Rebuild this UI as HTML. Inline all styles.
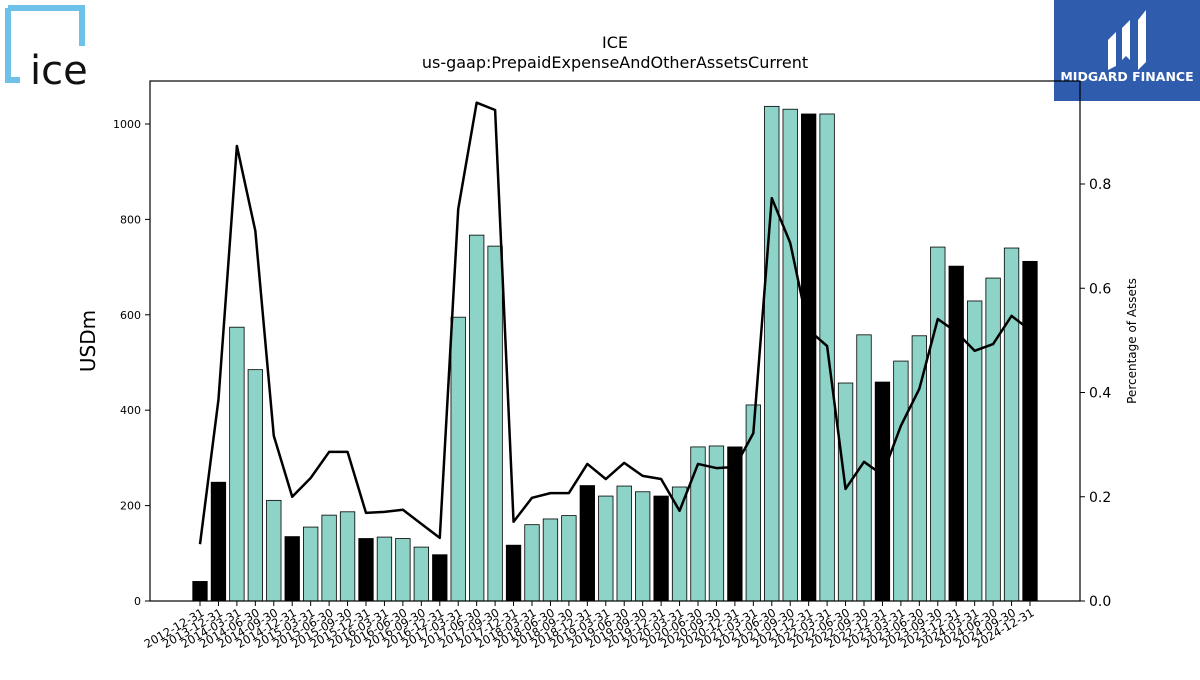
<!DOCTYPE html>
<html><head><meta charset="utf-8"><style>
body{margin:0;background:#fff;font-family:"Liberation Sans","DejaVu Sans",sans-serif}
svg text{font-family:"DejaVu Sans","Liberation Sans",sans-serif}
</style></head><body>
<svg id="chart" width="1200" height="675" xmlns="http://www.w3.org/2000/svg">
<g>
<path d="M8,8 H82 V46 M8,8 V80 H20" fill="none" stroke="#6ec1e8" stroke-width="6"/>
<text x="30" y="84" font-size="40" fill="#111" font-family="Liberation Sans">ice</text>
</g>
<g>
<rect x="1054" y="0" width="146" height="101" fill="#2f5cad"/>
<path d="M1108,40 l8,-8 v34 l-8,4z M1122,28 l8,-8 v40 l-4,-4 l-4,4z M1138,20 l8,-10 v52 l-8,8z" fill="#fff"/>
<text x="1127" y="81" font-size="12.5" font-weight="bold" fill="#fff" text-anchor="middle">MIDGARD FINANCE</text>
</g>
<text x="615" y="48" font-size="16" text-anchor="middle">ICE</text>
<text x="615" y="68" font-size="16" text-anchor="middle">us-gaap:PrepaidExpenseAndOtherAssetsCurrent</text>
<g id="bars"></g><g id="line"></g><g id="axes"></g>
</svg>
<script>
const categories=["2012-12-31","2013-12-31","2014-03-31","2014-06-30","2014-09-30","2014-12-31","2015-03-31","2015-06-30","2015-09-30","2015-12-31","2016-03-31","2016-06-30","2016-09-30","2016-12-31","2017-03-31","2017-06-30","2017-09-30","2017-12-31","2018-03-31","2018-06-30","2018-09-30","2018-12-31","2019-03-31","2019-06-30","2019-09-30","2019-12-31","2020-03-31","2020-06-30","2020-09-30","2020-12-31","2021-03-31","2021-06-30","2021-09-30","2021-12-31","2022-03-31","2022-06-30","2022-09-30","2022-12-31","2023-03-31","2023-06-30","2023-09-30","2023-12-31","2024-03-31","2024-06-30","2024-09-30","2024-12-31"];
const usdValues=[41,249,574,485,211,135,155,180,187,131,134,131,113,97,595,767,744,117,160,172,179,242,220,241,229,220,239,323,325,323,411,1037,1031,1021,1021,457,558,459,503,556,742,702,629,677,740,712];
const pctValues=[0.109,0.386,0.873,0.71,0.317,0.2,0.236,0.286,0.286,0.169,0.171,0.175,0.148,0.121,0.752,0.956,0.942,0.152,0.198,0.207,0.207,0.263,0.234,0.265,0.24,0.234,0.173,0.263,0.255,0.257,0.322,0.773,0.687,0.52,0.489,0.215,0.267,0.242,0.336,0.407,0.541,0.516,0.48,0.493,0.547,0.52];
const leftTicks=[0,200,400,600,800,1000];
const rightTicks=[0.0,0.2,0.4,0.6,0.8];
const NS="http://www.w3.org/2000/svg";
const L=150,R=1080,T=81,B=601;
const x=i=>200+i*(1030-200)/(categories.length-1);
const yL=v=>B-v*0.477;
const yR=v=>B-v*521.25;
const bw=14.5;
function mk(tag,attrs,parent){const e=document.createElementNS(NS,tag);for(const k in attrs)e.setAttribute(k,attrs[k]);parent.appendChild(e);return e;}
const bars=document.getElementById('bars'),line=document.getElementById('line'),axes=document.getElementById('axes');
usdValues.forEach((v,i)=>{
 const annual=categories[i].endsWith('12-31');
 const r=mk('rect',{x:x(i)-bw/2,y:yL(v),width:bw,height:B-yL(v),fill:annual?'#000':'#8dd3c7',stroke:'#000','stroke-width':0.8},bars);
 
 
});
const pl=mk('polyline',{points:pctValues.map((v,i)=>x(i)+','+yR(v)).join(' '),fill:'none',stroke:'#000','stroke-width':2.5,'stroke-linejoin':'round'},line);


const fr=mk('rect',{x:L,y:T,width:R-L,height:B-T,fill:'none',stroke:'#000','stroke-width':1.2},axes);


leftTicks.forEach(t=>{
 mk('line',{x1:L-5,x2:L,y1:yL(t),y2:yL(t),stroke:'#000'},axes);
 const tx=mk('text',{x:L-9,y:yL(t)+4,'font-size':11,'text-anchor':'end'},axes);tx.textContent=t;
 
 
});
rightTicks.forEach(t=>{
 mk('line',{x1:R,x2:R+5,y1:yR(t),y2:yR(t),stroke:'#000'},axes);
 const tx=mk('text',{x:R+9,y:yR(t)+5,'font-size':14},axes);tx.textContent=t.toFixed(1);
 
 
});
categories.forEach((c,i)=>{
 mk('line',{x1:x(i),x2:x(i),y1:B,y2:B+5,stroke:'#000'},axes);
 const tx=mk('text',{x:0,y:0,'font-size':11.5,'text-anchor':'end',transform:`translate(${x(i)+5},${B+14}) rotate(-30)`},axes);tx.textContent=c;
 
 
});
const yl=mk('text',{x:0,y:0,'font-size':20,'text-anchor':'middle',transform:`translate(95,${(T+B)/2}) rotate(-90)`},axes);yl.textContent='USDm';


const yr=mk('text',{x:0,y:0,'font-size':12,'text-anchor':'middle',transform:`translate(1136,${(T+B)/2}) rotate(-90)`},axes);yr.textContent='Percentage of Assets';


</script>
</body></html>
